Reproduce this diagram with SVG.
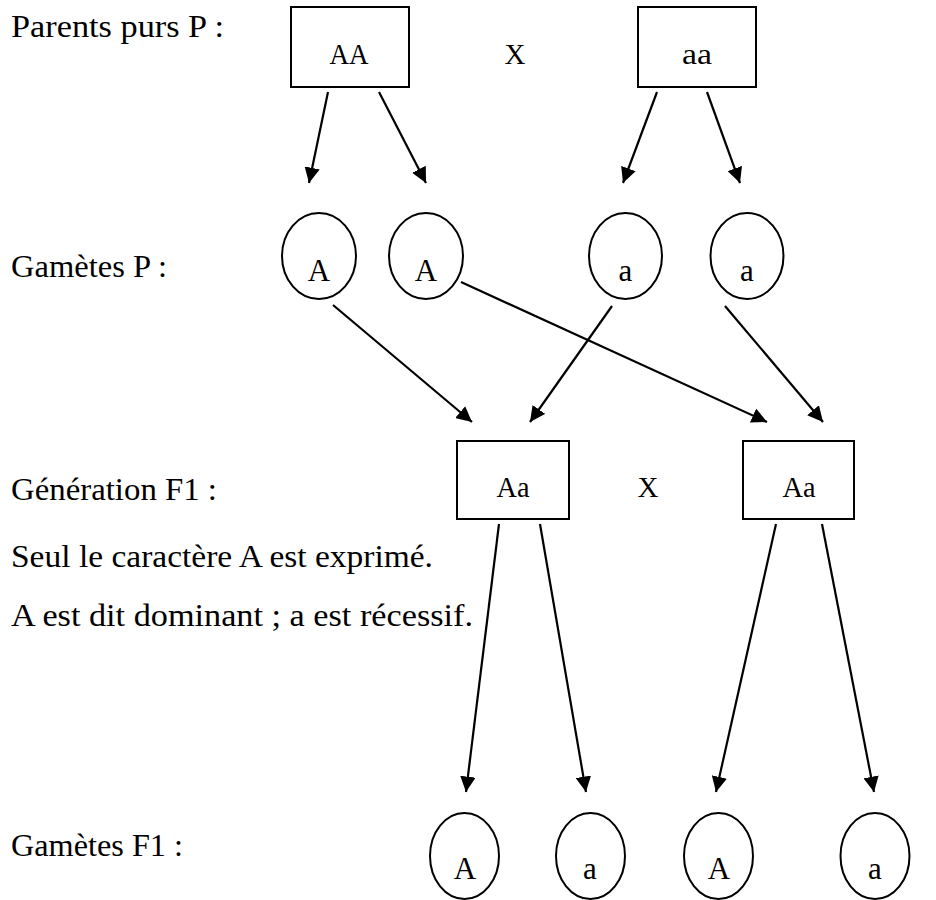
<svg xmlns="http://www.w3.org/2000/svg" width="936" height="900" viewBox="0 0 936 900">
<style>
text{font-family:"Liberation Serif","DejaVu Serif",serif;fill:#000}
.lbl{font-size:31px}
.in{font-size:29px;text-anchor:middle}
.g{font-size:31px;text-anchor:middle}
.box,.cell{fill:#fff;stroke:#000;stroke-width:2}
.con line{stroke:#000;stroke-width:2.2;marker-end:url(#ah)}
</style>
<defs>
<marker id="ah" viewBox="0 0 10 10" refX="10" refY="5" markerWidth="7" markerHeight="7" markerUnits="strokeWidth" orient="auto">
<path d="M0,0 L10,5 L0,10 z" fill="#000"/>
</marker>
</defs>
<g id="labels">
<text class="lbl" x="11" y="37" textLength="213" lengthAdjust="spacingAndGlyphs">Parents purs P :</text>
<text class="lbl" x="11" y="277" textLength="156" lengthAdjust="spacingAndGlyphs">Gamètes P :</text>
<text class="lbl" x="11" y="500" textLength="206" lengthAdjust="spacingAndGlyphs">Génération F1 :</text>
<text class="lbl" x="11" y="567" textLength="422" lengthAdjust="spacingAndGlyphs">Seul le caractère A est exprimé.</text>
<text class="lbl" x="11" y="626" textLength="462" lengthAdjust="spacingAndGlyphs">A est dit dominant ; a est récessif.</text>
<text class="lbl" x="11" y="856" textLength="172" lengthAdjust="spacingAndGlyphs">Gamètes F1 :</text>
<text class="in" x="515" y="64">X</text>
<text class="in" x="648" y="497">X</text>
</g>
<g id="parentAA"><rect class="box" x="291" y="7" width="118" height="80"/><text class="in" x="349" y="64" textLength="39" lengthAdjust="spacingAndGlyphs">AA</text></g>
<g id="parentaa"><rect class="box" x="638" y="7" width="118" height="80"/><text class="in" x="697" y="64" textLength="30" lengthAdjust="spacingAndGlyphs">aa</text></g>
<g id="gP1"><ellipse class="cell" cx="319" cy="256" rx="37" ry="43"/><text class="g" x="319" y="281">A</text></g>
<g id="gP2"><ellipse class="cell" cx="426" cy="256" rx="37" ry="43"/><text class="g" x="426" y="281">A</text></g>
<g id="gP3"><ellipse class="cell" cx="625.5" cy="256" rx="36.5" ry="43"/><text class="g" x="625.5" y="281">a</text></g>
<g id="gP4"><ellipse class="cell" cx="747" cy="256" rx="36.5" ry="43"/><text class="g" x="747" y="281">a</text></g>
<g id="f1a"><rect class="box" x="457" y="441" width="112" height="78"/><text class="in" x="513" y="497" textLength="33" lengthAdjust="spacingAndGlyphs">Aa</text></g>
<g id="f1b"><rect class="box" x="743" y="441" width="111" height="78"/><text class="in" x="799" y="497" textLength="33" lengthAdjust="spacingAndGlyphs">Aa</text></g>
<g id="gF1"><ellipse class="cell" cx="464.5" cy="856" rx="34.5" ry="43"/><text class="g" x="465" y="879">A</text></g>
<g id="gF2"><ellipse class="cell" cx="590.5" cy="856" rx="34.5" ry="43"/><text class="g" x="590" y="879">a</text></g>
<g id="gF3"><ellipse class="cell" cx="718.5" cy="856" rx="34.5" ry="43"/><text class="g" x="719" y="879">A</text></g>
<g id="gF4"><ellipse class="cell" cx="875" cy="856" rx="34.5" ry="43"/><text class="g" x="875" y="879">a</text></g>
<g id="connectors" class="con">
<line x1="328" y1="92" x2="309" y2="183"/>
<line x1="379" y1="92" x2="426" y2="183"/>
<line x1="657" y1="92" x2="623" y2="183"/>
<line x1="707" y1="92" x2="740" y2="183"/>
<line x1="333" y1="305" x2="472" y2="422"/>
<line x1="461" y1="282" x2="767" y2="422"/>
<line x1="612" y1="306" x2="530" y2="422"/>
<line x1="725" y1="306" x2="823" y2="422"/>
<line x1="499" y1="524" x2="466" y2="792"/>
<line x1="540" y1="524" x2="586" y2="792"/>
<line x1="776" y1="524" x2="716" y2="792"/>
<line x1="822" y1="524" x2="874" y2="792"/>
</g>
</svg>
